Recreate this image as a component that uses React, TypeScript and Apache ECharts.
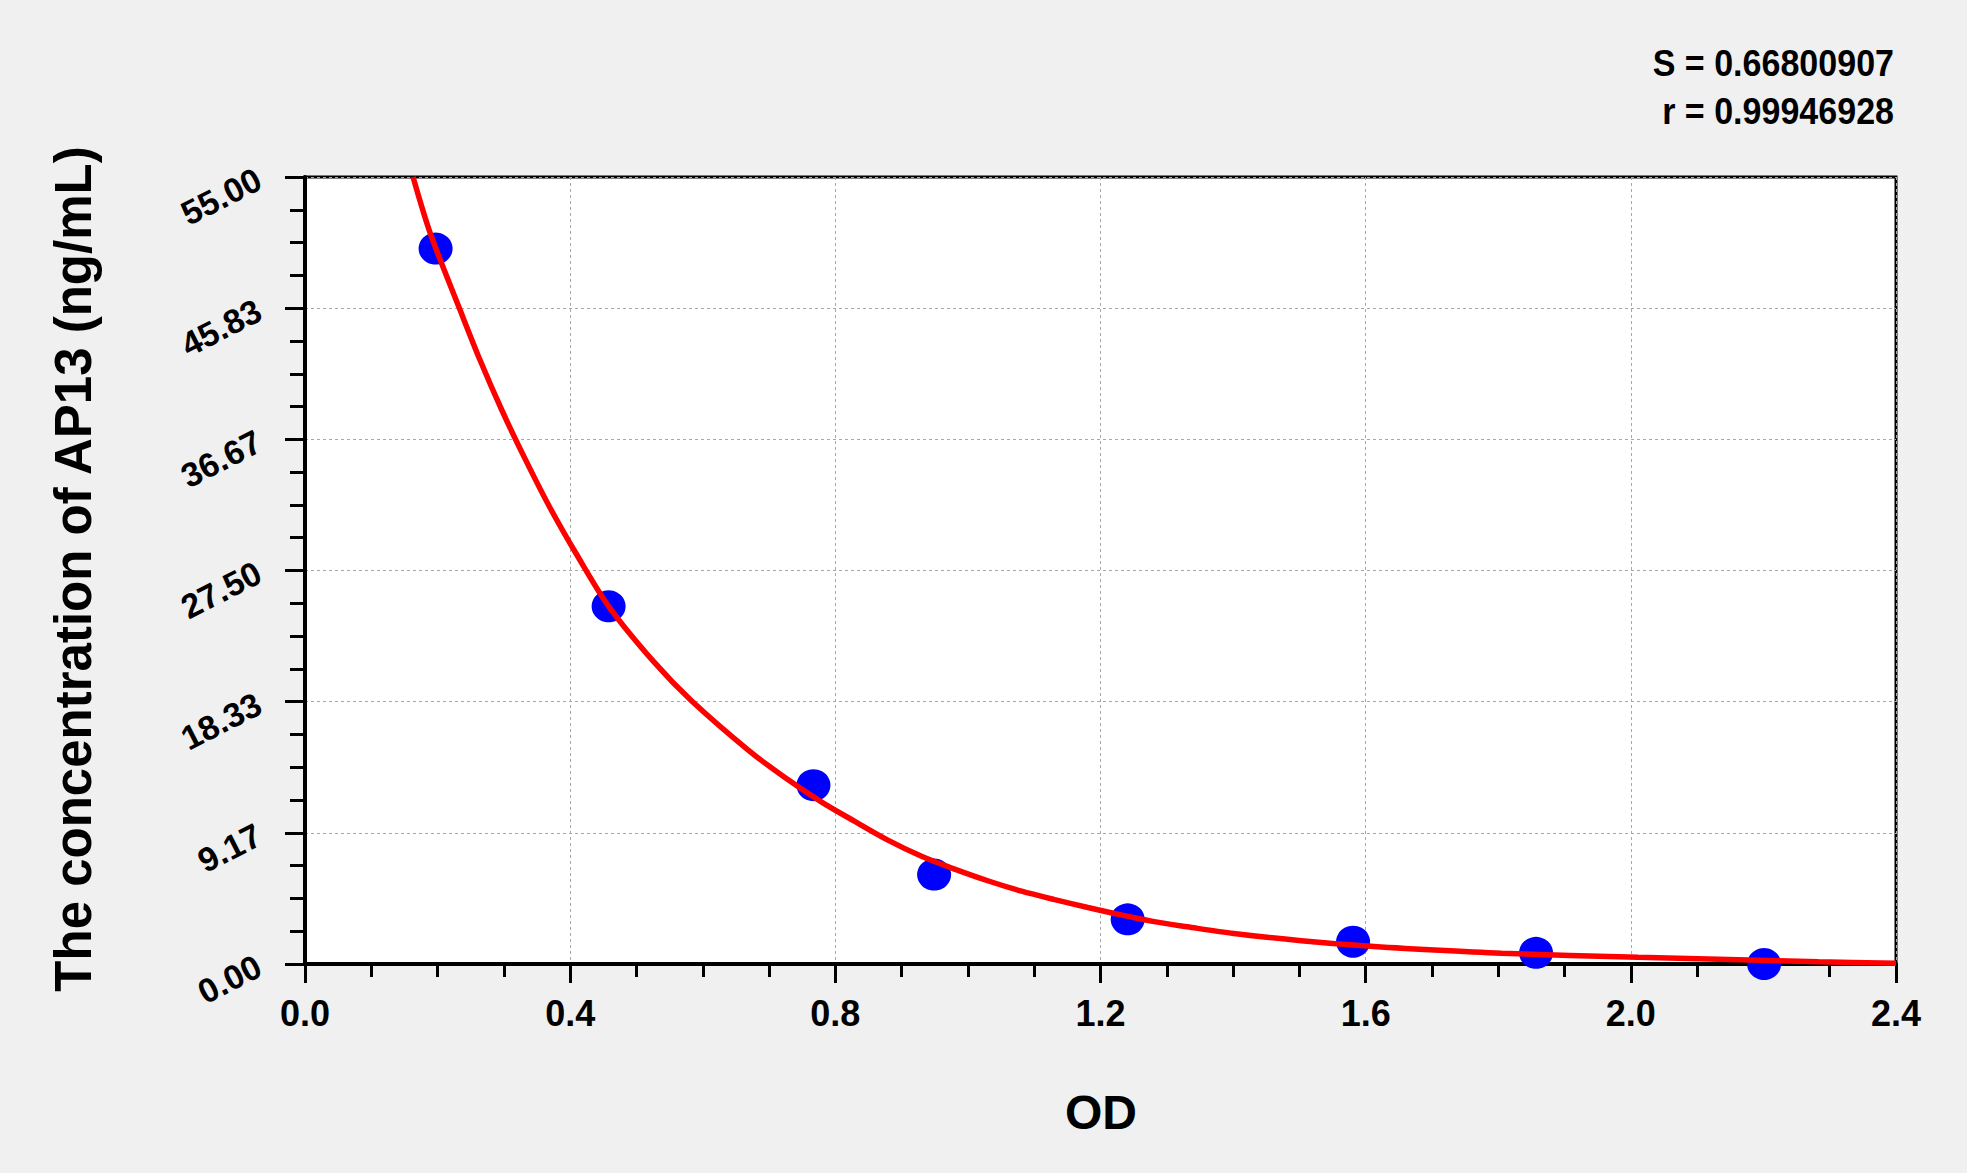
import React, { useEffect, useRef } from "react";
import * as echarts from "echarts";

// Standard points (OD, concentration)
const pointOD = [0.197, 0.458, 0.767, 0.949, 1.241, 1.581, 1.857, 2.201];
const pointConc = [50, 25, 12.5, 6.25, 3.12, 1.56, 0.78, 0];

// Fitted curve
const curveOD = [0.163, 0.189, 0.234, 0.264, 0.297, 0.332, 0.37, 0.41, 0.458, 0.526, 0.583, 0.67, 0.725, 0.78, 0.83, 0.88, 0.93, 0.98, 1.031, 1.081, 1.131, 1.181, 1.231, 1.281, 1.331, 1.401, 1.503, 1.603, 1.704, 1.805, 2.011, 2.283, 2.4];
const curveConc = [55.0, 51.06, 45.7, 42.21, 38.7, 35.3, 31.85, 28.6, 25.0, 21.13, 18.4, 14.9, 13.0, 11.3, 9.95, 8.64, 7.53, 6.63, 5.8, 5.09, 4.5, 3.95, 3.43, 2.96, 2.6, 2.13, 1.63, 1.25, 0.97, 0.75, 0.47, 0.16, 0.05];

const statLines = ["S = 0.66800907", "r = 0.99946928"];
const xTitle = "OD";
const yTitle = "The concentration of AP13 (ng/mL)";

const FONT = "'Liberation Sans', Arial, Helvetica, sans-serif";

export default function App() {
  const ref = useRef<HTMLDivElement>(null);

  useEffect(() => {
    document.body.style.margin = "0";
    const chart = echarts.init(ref.current!, null, { renderer: "svg" });
    const option = {
      animation: false,
      backgroundColor: "#f0f0f0",
      textStyle: { fontFamily: FONT },
      grid: {
        left: 305,
        top: 177,
        width: 1591,
        height: 787,
        show: true,
        backgroundColor: "#ffffff",
        borderColor: "#000000",
        borderWidth: 3,
      },
      xAxis: {
        type: "value",
        min: 0,
        max: 2.4,
        interval: 0.4,
        axisLine: { show: true, onZero: false, lineStyle: { color: "#000", width: 4 } },
        axisTick: { show: true, length: 19, lineStyle: { color: "#000", width: 3 } },
        minorTick: { show: true, splitNumber: 4, length: 13, lineStyle: { color: "#000", width: 3 } },
        splitLine: { show: true, lineStyle: { color: "#a8a8a8", width: 1, type: [3, 3] } },
        axisLabel: {
          margin: 31,
          fontSize: 36,
          fontWeight: "bold",
          color: "#000",
          fontFamily: FONT,
          formatter: (v: number) => v.toFixed(1),
        },
      },
      yAxis: {
        type: "value",
        min: 0,
        max: 55,
        interval: 55 / 6,
        axisLine: { show: true, onZero: false, lineStyle: { color: "#000", width: 4 } },
        axisTick: { show: true, length: 20, lineStyle: { color: "#000", width: 3 } },
        minorTick: { show: true, splitNumber: 4, length: 15, lineStyle: { color: "#000", width: 3 } },
        splitLine: { show: true, lineStyle: { color: "#a8a8a8", width: 1, type: [3, 3] } },
        axisLabel: {
          margin: 46,
          rotate: 27,
          fontSize: 34,
          fontWeight: "bold",
          color: "#000",
          fontFamily: FONT,
          formatter: (v: number) => v.toFixed(2),
        },
      },
      graphic: [
        {
          type: "text",
          x: 1894,
          y: 64,
          scaleX: 0.92,
          style: {
            text: statLines[0],
            font: `bold 37px ${FONT}`,
            fill: "#000",
            align: "right",
            verticalAlign: "middle",
          },
        },
        {
          type: "text",
          x: 1894,
          y: 112,
          scaleX: 0.92,
          style: {
            text: statLines[1],
            font: `bold 37px ${FONT}`,
            fill: "#000",
            align: "right",
            verticalAlign: "middle",
          },
        },
        {
          type: "text",
          x: 1101,
          y: 1112,
          style: {
            text: xTitle,
            font: `bold 48px ${FONT}`,
            fill: "#000",
            align: "center",
            verticalAlign: "middle",
          },
        },
        {
          type: "text",
          x: 73,
          y: 569,
          rotation: Math.PI / 2,
          style: {
            text: yTitle,
            font: `bold 51px ${FONT}`,
            fill: "#000",
            align: "center",
            verticalAlign: "middle",
          },
        },
      ],
      series: [
        {
          type: "scatter",
          data: pointOD.map((x, i) => [x, pointConc[i]]),
          symbol: "circle",
          symbolSize: [34, 32],
          itemStyle: { color: "#0000ff", opacity: 1 },
          z: 2,
        },
        {
          type: "line",
          data: curveOD.map((x, i) => [x, curveConc[i]]),
          showSymbol: false,
          smooth: 0.3,
          lineStyle: { color: "#ff0000", width: 5.5 },
          z: 3,
        },
      ],
    };
    chart.setOption(option as any);
    return () => chart.dispose();
  }, []);

  return (
    <div
      ref={ref}
      style={{ position: "absolute", left: 0, top: 0, width: 1967, height: 1173 }}
    />
  );
}
